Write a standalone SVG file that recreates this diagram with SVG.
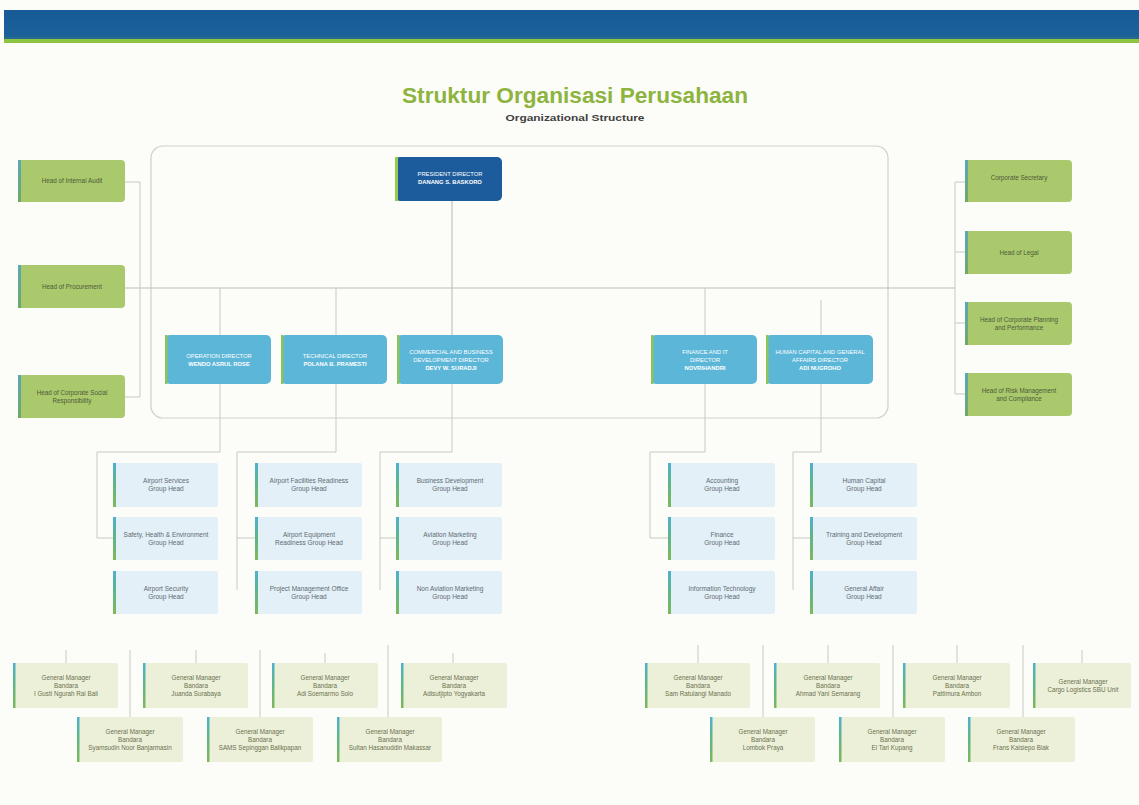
<svg xmlns="http://www.w3.org/2000/svg" width="1139" height="805" viewBox="0 0 1139 805">
<defs>
<linearGradient id="band" x1="0" y1="0" x2="0" y2="1">
<stop offset="0" stop-color="#175a97"/><stop offset="0.8" stop-color="#1b6199"/><stop offset="1" stop-color="#2a7189"/>
</linearGradient>
<linearGradient id="stripe" x1="0" y1="0" x2="0" y2="1">
<stop offset="0" stop-color="#4fb0cf"/><stop offset="0.45" stop-color="#5db58a"/><stop offset="1" stop-color="#7fb85a"/>
</linearGradient>
<linearGradient id="stripeG" x1="0" y1="0" x2="0" y2="1">
<stop offset="0" stop-color="#5aa7b8"/><stop offset="1" stop-color="#6ea86a"/>
</linearGradient>
<style>
.ln{stroke:#c9c9c4;stroke-width:1;fill:none}
.ln2{stroke:#bdbdb8;stroke-width:1.1;fill:none}
.side{fill:#aac96c}
.dir{fill:#5cb6d8}
.grp{fill:#e3f0f8}
.gm{fill:#edf0d9}
.t{font-family:"Liberation Sans",Arial,sans-serif;text-anchor:middle}
.ts{font-size:6.3px;fill:#4d5a3a}
.tg{font-size:6.5px;fill:#5f6b72}
.tm{font-size:6.3px;fill:#6a7050}
.tw{font-size:5.8px;fill:#ffffff}
.twb{font-size:5.8px;fill:#ffffff;font-weight:bold}
</style>
</defs>
<rect width="1139" height="805" fill="#fcfcf8"/>
<rect x="4" y="10" width="1135" height="31" fill="url(#band)"/>
<rect x="4" y="39" width="1135" height="4" fill="#8dc440"/>
<text x="575" y="103" class="t" font-family="'Open Sans',sans-serif" font-weight="bold" font-size="22" fill="#8cb43f" textLength="346" lengthAdjust="spacingAndGlyphs">Struktur Organisasi Perusahaan</text>
<text x="575" y="121" class="t" font-weight="bold" font-size="8.5" fill="#3f3f3f" textLength="139" lengthAdjust="spacingAndGlyphs">Organizational Structure</text>

<rect x="151" y="146" width="737" height="272" rx="12" fill="none" stroke="#cfcfcb" stroke-width="1.2"/>

<g id="connectors">
<path class="ln2" d="M125 288H955"/>
<path class="ln" d="M125 182H140V397H125"/>
<path class="ln" d="M955 182V394M955 182H965M955 252H965M955 323H965M955 394H965"/>
<path class="ln2" d="M452 201V335"/>
<path class="ln" d="M220 288V335M336 288V335M705 288V335M821 300V335"/>
<path class="ln" d="M220 384V452H97V538H113"/>
<path class="ln" d="M336 384V452H237V590M237 538H255"/>
<path class="ln" d="M452 384V452H380V590M380 538H396"/>
<path class="ln" d="M705 384V452H650V538H668"/>
<path class="ln" d="M821 384V452H793V590M793 538H810"/>
<path class="ln" d="M66 650V663M196 650V663M325 653V663M453 653V663M130 650V717M260 650V717M388 645V717"/>
<path class="ln" d="M698 645V663M828 645V663M957 645V663M1082 650V663M763 645V717M893 645V717M1023 645V717"/>
</g>

<g id="internal-audit"><rect class="side" x="18" y="160" width="107" height="42" rx="4"/><rect x="18" y="160" width="3" height="42" fill="url(#stripeG)"/><text class="t ts" x="72" y="183">Head of Internal Audit</text></g>
<g id="procurement"><rect class="side" x="18" y="265" width="107" height="43" rx="4"/><rect x="18" y="265" width="3" height="43" fill="url(#stripeG)"/><text class="t ts" x="72" y="289">Head of Procurement</text></g>
<g id="csr"><rect class="side" x="18" y="375" width="107" height="43" rx="4"/><rect x="18" y="375" width="3" height="43" fill="url(#stripeG)"/><text class="t ts" x="72" y="395">Head of Corporate Social</text><text class="t ts" x="72" y="403">Responsibility</text></g>

<g id="corporate-secretary"><rect class="side" x="965" y="160" width="107" height="42" rx="4"/><rect x="965" y="160" width="3" height="42" fill="url(#stripeG)"/><text class="t ts" x="1019" y="180">Corporate Secretary</text></g>
<g id="legal"><rect class="side" x="965" y="231" width="107" height="43" rx="4"/><rect x="965" y="231" width="3" height="43" fill="url(#stripeG)"/><text class="t ts" x="1019" y="255">Head of Legal</text></g>
<g id="corporate-planning"><rect class="side" x="965" y="302" width="107" height="43" rx="4"/><rect x="965" y="302" width="3" height="43" fill="url(#stripeG)"/><text class="t ts" x="1019" y="322">Head of Corporate Planning</text><text class="t ts" x="1019" y="330">and Performance</text></g>
<g id="risk-management"><rect class="side" x="965" y="373" width="107" height="43" rx="4"/><rect x="965" y="373" width="3" height="43" fill="url(#stripeG)"/><text class="t ts" x="1019" y="393">Head of Risk Management</text><text class="t ts" x="1019" y="401">and Compliance</text></g>

<g id="president-director"><rect x="395" y="157" width="107" height="44" rx="5" fill="#1c5c9c"/><rect x="395" y="157" width="3" height="44" fill="#9cc94a"/><text class="t tw" x="450" y="176">PRESIDENT DIRECTOR</text><text class="t twb" x="450" y="184">DANANG S. BASKORO</text></g>

<g id="operation-director"><rect class="dir" x="165" y="335" width="106" height="49" rx="5"/><rect x="165" y="335" width="2.5" height="49" fill="#8cc45a"/><text class="t tw" x="219" y="358">OPERATION DIRECTOR</text><text class="t twb" x="219" y="366">WENDO ASRUL ROSE</text></g>
<g id="technical-director"><rect class="dir" x="281" y="335" width="106" height="49" rx="5"/><rect x="281" y="335" width="2.5" height="49" fill="#8cc45a"/><text class="t tw" x="335" y="358">TECHNICAL DIRECTOR</text><text class="t twb" x="335" y="366">POLANA B. PRAMESTI</text></g>
<g id="commercial-director"><rect class="dir" x="397" y="335" width="106" height="49" rx="5"/><rect x="397" y="335" width="2.5" height="49" fill="#8cc45a"/><text class="t tw" x="451" y="354">COMMERCIAL AND BUSINESS</text><text class="t tw" x="451" y="362">DEVELOPMENT DIRECTOR</text><text class="t twb" x="451" y="370">DEVY W. SURADJI</text></g>
<g id="finance-director"><rect class="dir" x="651" y="335" width="106" height="49" rx="5"/><rect x="651" y="335" width="2.5" height="49" fill="#8cc45a"/><text class="t tw" x="705" y="354">FINANCE AND IT</text><text class="t tw" x="705" y="362">DIRECTOR</text><text class="t twb" x="705" y="370">NOVRIHANDRI</text></g>
<g id="hc-director"><rect class="dir" x="766" y="335" width="107" height="49" rx="5"/><rect x="766" y="335" width="2.5" height="49" fill="#8cc45a"/><text class="t tw" x="820" y="354">HUMAN CAPITAL AND GENERAL</text><text class="t tw" x="820" y="362">AFFAIRS DIRECTOR</text><text class="t twb" x="820" y="370">ADI NUGROHO</text></g>

<g id="airport-services"><rect class="grp" x="113" y="463" width="105" height="44" rx="2"/><rect x="113" y="463" width="3" height="44" fill="url(#stripe)"/><text class="t tg" x="166" y="483">Airport Services</text><text class="t tg" x="166" y="491">Group Head</text></g>
<g id="she"><rect class="grp" x="113" y="517" width="105" height="43" rx="2"/><rect x="113" y="517" width="3" height="43" fill="url(#stripe)"/><text class="t tg" x="166" y="537">Safety, Health &amp; Environment</text><text class="t tg" x="166" y="545">Group Head</text></g>
<g id="airport-security"><rect class="grp" x="113" y="571" width="105" height="43" rx="2"/><rect x="113" y="571" width="3" height="43" fill="url(#stripe)"/><text class="t tg" x="166" y="591">Airport Security</text><text class="t tg" x="166" y="599">Group Head</text></g>

<g id="facilities-readiness"><rect class="grp" x="255" y="463" width="107" height="44" rx="2"/><rect x="255" y="463" width="3" height="44" fill="url(#stripe)"/><text class="t tg" x="309" y="483">Airport Facilities Readiness</text><text class="t tg" x="309" y="491">Group Head</text></g>
<g id="equipment-readiness"><rect class="grp" x="255" y="517" width="107" height="43" rx="2"/><rect x="255" y="517" width="3" height="43" fill="url(#stripe)"/><text class="t tg" x="309" y="537">Airport Equipment</text><text class="t tg" x="309" y="545">Readiness Group Head</text></g>
<g id="pmo"><rect class="grp" x="255" y="571" width="107" height="43" rx="2"/><rect x="255" y="571" width="3" height="43" fill="url(#stripe)"/><text class="t tg" x="309" y="591">Project Management Office</text><text class="t tg" x="309" y="599">Group Head</text></g>

<g id="business-development"><rect class="grp" x="396" y="463" width="106" height="44" rx="2"/><rect x="396" y="463" width="3" height="44" fill="url(#stripe)"/><text class="t tg" x="450" y="483">Business Development</text><text class="t tg" x="450" y="491">Group Head</text></g>
<g id="aviation-marketing"><rect class="grp" x="396" y="517" width="106" height="43" rx="2"/><rect x="396" y="517" width="3" height="43" fill="url(#stripe)"/><text class="t tg" x="450" y="537">Aviation Marketing</text><text class="t tg" x="450" y="545">Group Head</text></g>
<g id="non-aviation-marketing"><rect class="grp" x="396" y="571" width="106" height="43" rx="2"/><rect x="396" y="571" width="3" height="43" fill="url(#stripe)"/><text class="t tg" x="450" y="591">Non Aviation Marketing</text><text class="t tg" x="450" y="599">Group Head</text></g>

<g id="accounting"><rect class="grp" x="668" y="463" width="107" height="44" rx="2"/><rect x="668" y="463" width="3" height="44" fill="url(#stripe)"/><text class="t tg" x="722" y="483">Accounting</text><text class="t tg" x="722" y="491">Group Head</text></g>
<g id="finance"><rect class="grp" x="668" y="517" width="107" height="43" rx="2"/><rect x="668" y="517" width="3" height="43" fill="url(#stripe)"/><text class="t tg" x="722" y="537">Finance</text><text class="t tg" x="722" y="545">Group Head</text></g>
<g id="information-technology"><rect class="grp" x="668" y="571" width="107" height="43" rx="2"/><rect x="668" y="571" width="3" height="43" fill="url(#stripe)"/><text class="t tg" x="722" y="591">Information Technology</text><text class="t tg" x="722" y="599">Group Head</text></g>

<g id="human-capital"><rect class="grp" x="810" y="463" width="107" height="44" rx="2"/><rect x="810" y="463" width="3" height="44" fill="url(#stripe)"/><text class="t tg" x="864" y="483">Human Capital</text><text class="t tg" x="864" y="491">Group Head</text></g>
<g id="training-development"><rect class="grp" x="810" y="517" width="107" height="43" rx="2"/><rect x="810" y="517" width="3" height="43" fill="url(#stripe)"/><text class="t tg" x="864" y="537">Training and Development</text><text class="t tg" x="864" y="545">Group Head</text></g>
<g id="general-affair"><rect class="grp" x="810" y="571" width="107" height="43" rx="2"/><rect x="810" y="571" width="3" height="43" fill="url(#stripe)"/><text class="t tg" x="864" y="591">General Affair</text><text class="t tg" x="864" y="599">Group Head</text></g>

<g id="gm-bali"><rect class="gm" x="13" y="663" width="105" height="45" rx="2"/><rect x="13" y="663" width="2.5" height="45" fill="url(#stripe)"/><text class="t tm" x="66" y="680">General Manager</text><text class="t tm" x="66" y="688">Bandara</text><text class="t tm" x="66" y="696">I Gusti Ngurah Rai Bali</text></g>
<g id="gm-surabaya"><rect class="gm" x="143" y="663" width="105" height="45" rx="2"/><rect x="143" y="663" width="2.5" height="45" fill="url(#stripe)"/><text class="t tm" x="196" y="680">General Manager</text><text class="t tm" x="196" y="688">Bandara</text><text class="t tm" x="196" y="696">Juanda Surabaya</text></g>
<g id="gm-solo"><rect class="gm" x="272" y="663" width="106" height="45" rx="2"/><rect x="272" y="663" width="2.5" height="45" fill="url(#stripe)"/><text class="t tm" x="325" y="680">General Manager</text><text class="t tm" x="325" y="688">Bandara</text><text class="t tm" x="325" y="696">Adi Soemarmo Solo</text></g>
<g id="gm-yogyakarta"><rect class="gm" x="401" y="663" width="106" height="45" rx="2"/><rect x="401" y="663" width="2.5" height="45" fill="url(#stripe)"/><text class="t tm" x="454" y="680">General Manager</text><text class="t tm" x="454" y="688">Bandara</text><text class="t tm" x="454" y="696">Adisutjipto Yogyakarta</text></g>
<g id="gm-banjarmasin"><rect class="gm" x="77" y="717" width="106" height="45" rx="2"/><rect x="77" y="717" width="2.5" height="45" fill="url(#stripe)"/><text class="t tm" x="130" y="734">General Manager</text><text class="t tm" x="130" y="742">Bandara</text><text class="t tm" x="130" y="750">Syamsudin Noor Banjarmasin</text></g>
<g id="gm-balikpapan"><rect class="gm" x="207" y="717" width="106" height="45" rx="2"/><rect x="207" y="717" width="2.5" height="45" fill="url(#stripe)"/><text class="t tm" x="260" y="734">General Manager</text><text class="t tm" x="260" y="742">Bandara</text><text class="t tm" x="260" y="750">SAMS Sepinggan Balikpapan</text></g>
<g id="gm-makassar"><rect class="gm" x="337" y="717" width="105" height="45" rx="2"/><rect x="337" y="717" width="2.5" height="45" fill="url(#stripe)"/><text class="t tm" x="390" y="734">General Manager</text><text class="t tm" x="390" y="742">Bandara</text><text class="t tm" x="390" y="750">Sultan Hasanuddin Makassar</text></g>

<g id="gm-manado"><rect class="gm" x="645" y="663" width="105" height="45" rx="2"/><rect x="645" y="663" width="2.5" height="45" fill="url(#stripe)"/><text class="t tm" x="698" y="680">General Manager</text><text class="t tm" x="698" y="688">Bandara</text><text class="t tm" x="698" y="696">Sam Ratulangi Manado</text></g>
<g id="gm-semarang"><rect class="gm" x="774" y="663" width="106" height="45" rx="2"/><rect x="774" y="663" width="2.5" height="45" fill="url(#stripe)"/><text class="t tm" x="828" y="680">General Manager</text><text class="t tm" x="828" y="688">Bandara</text><text class="t tm" x="828" y="696">Ahmad Yani Semarang</text></g>
<g id="gm-ambon"><rect class="gm" x="903" y="663" width="107" height="45" rx="2"/><rect x="903" y="663" width="2.5" height="45" fill="url(#stripe)"/><text class="t tm" x="957" y="680">General Manager</text><text class="t tm" x="957" y="688">Bandara</text><text class="t tm" x="957" y="696">Pattimura Ambon</text></g>
<g id="gm-cargo"><rect class="gm" x="1033" y="663" width="98" height="45" rx="2"/><rect x="1033" y="663" width="2.5" height="45" fill="url(#stripe)"/><text class="t tm" x="1083" y="684">General Manager</text><text class="t tm" x="1083" y="692">Cargo Logistics SBU Unit</text></g>
<g id="gm-lombok"><rect class="gm" x="710" y="717" width="105" height="45" rx="2"/><rect x="710" y="717" width="2.5" height="45" fill="url(#stripe)"/><text class="t tm" x="763" y="734">General Manager</text><text class="t tm" x="763" y="742">Bandara</text><text class="t tm" x="763" y="750">Lombok Praya</text></g>
<g id="gm-kupang"><rect class="gm" x="839" y="717" width="106" height="45" rx="2"/><rect x="839" y="717" width="2.5" height="45" fill="url(#stripe)"/><text class="t tm" x="892" y="734">General Manager</text><text class="t tm" x="892" y="742">Bandara</text><text class="t tm" x="892" y="750">El Tari Kupang</text></g>
<g id="gm-biak"><rect class="gm" x="968" y="717" width="107" height="45" rx="2"/><rect x="968" y="717" width="2.5" height="45" fill="url(#stripe)"/><text class="t tm" x="1021" y="734">General Manager</text><text class="t tm" x="1021" y="742">Bandara</text><text class="t tm" x="1021" y="750">Frans Kaisiepo Biak</text></g>
</svg>
